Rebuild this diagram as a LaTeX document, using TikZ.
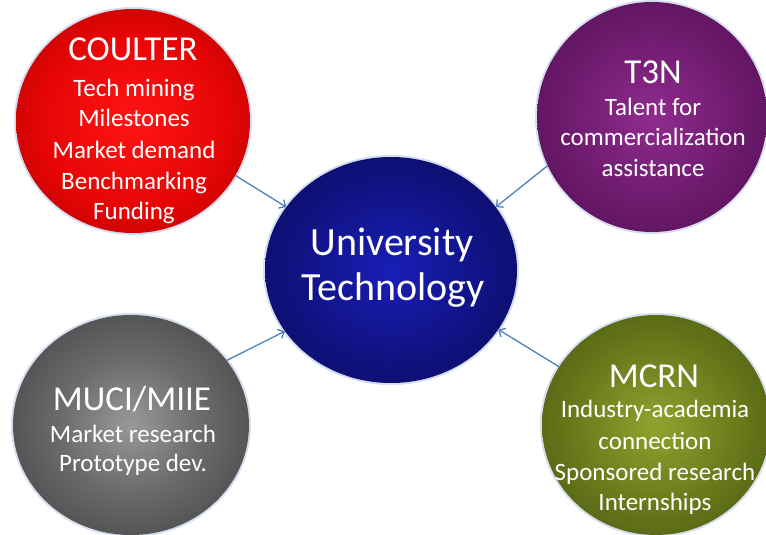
\documentclass[tikz,border=0pt]{standalone}
\usepackage{fontspec}
\setmainfont{Carlito}
\usetikzlibrary{shapes.geometric,arrows.meta}
\pgfdeclareradialshading{redball}{\pgfpointorigin}{rgb(0bp)=(1,0.08,0.08); rgb(20bp)=(0.9,0.02,0.02); rgb(38bp)=(0.64,0,0); rgb(50bp)=(0.4,0,0)}
\pgfdeclareradialshading{purpleball}{\pgfpointorigin}{rgb(0bp)=(0.56,0.17,0.56); rgb(20bp)=(0.42,0.1,0.42); rgb(38bp)=(0.3,0.05,0.3); rgb(50bp)=(0.17,0.02,0.17)}
\pgfdeclareradialshading{blueball}{\pgfpointorigin}{rgb(0bp)=(0.1,0.12,0.72); rgb(20bp)=(0.06,0.07,0.5); rgb(38bp)=(0.03,0.04,0.32); rgb(50bp)=(0.02,0.02,0.15)}
\pgfdeclareradialshading{grayball}{\pgfpointorigin}{rgb(0bp)=(0.6,0.6,0.6); rgb(15bp)=(0.42,0.42,0.42); rgb(35bp)=(0.25,0.25,0.25); rgb(50bp)=(0.12,0.12,0.12)}
\pgfdeclareradialshading{greenball}{\pgfpointorigin}{rgb(0bp)=(0.56,0.64,0.18); rgb(20bp)=(0.4,0.46,0.1); rgb(38bp)=(0.26,0.31,0.06); rgb(50bp)=(0.14,0.17,0.03)}
\definecolor{halo}{RGB}{212,222,238}
\definecolor{arrowblue}{RGB}{79,129,189}
\begin{document}
\begin{tikzpicture}[x=1pt,y=-1pt,
  ball/.style={ellipse, inner sep=0pt, preaction={draw=halo, line width=4pt}},
  hdr/.style={text=white, anchor=base, inner sep=0pt, font=\fontsize{35}{40}\selectfont},
  body/.style={text=white, anchor=base, inner sep=0pt, font=\fontsize{25}{30}\selectfont},
  big/.style={text=white, anchor=base, inner sep=0pt, font=\fontsize{40}{46}\selectfont},
  arr/.style={draw=arrowblue, line width=1.3pt, -{Straight Barb[length=5pt,width=10pt]}}]
\clip (0,0) rectangle (766,535);
\fill[white] (0,0) rectangle (766,535);

% circles
\node[ball, shading=redball, minimum width=234pt, minimum height=224pt] (coulter) at (133,121) {};
\node[ball, shading=purpleball, minimum width=230pt, minimum height=230pt] (t3n) at (652,117) {};
\node[ball, shading=blueball, minimum width=252pt, minimum height=226pt] (univ) at (391,270) {};
\node[ball, shading=grayball, minimum width=236pt, minimum height=220pt] (muci) at (131,425) {};
\node[ball, shading=greenball, minimum width=228pt, minimum height=220pt] (mcrn) at (656,425) {};

% connectors
\draw[arr] (coulter.-28.7) -- (univ.149.2);
\draw[arr] (t3n.205.9) -- (univ.31.9);
\draw[arr] (muci.34.6) -- (univ.210.3);
\draw[arr] (mcrn.149.5) -- (univ.-29.2);

% COULTER
\node[hdr] (cH) at (133,61) {COULTER};
\node[body] (c1) at (134,96) {Tech mining};
\node[body] (c2) at (134,126) {Milestones};
\node[body] (c3) at (134,158) {Market demand};
\node[body] (c4) at (134,189) {Benchmarking};
\node[body] (c5) at (134,219) {Funding};

% T3N
\node[hdr] (tH) at (653,84) {T3N};
\node[body] (t1) at (653,115) {Talent for};
\node[body] (t2) at (653,145) {commercialization};
\node[body] (t3) at (653,176) {assistance};

% University Technology
\node[big] (u1) at (392,255) {University};
\node[big] (u2) at (393,300) {Technology};

% MUCI/MIIE
\node[hdr] (mH) at (132,410) {MUCI/MIIE};
\node[body] (m1) at (133,442) {Market research};
\node[body] (m2) at (133,471) {Prototype dev.};

% MCRN
\node[hdr] (gH) at (654,387) {MCRN};
\node[body] (g1) at (655,417) {Industry-academia};
\node[body] (g2) at (655,449) {connection};
\node[body] (g3) at (655,480) {Sponsored research};
\node[body] (g4) at (655,510) {Internships};
\end{tikzpicture}
\end{document}
